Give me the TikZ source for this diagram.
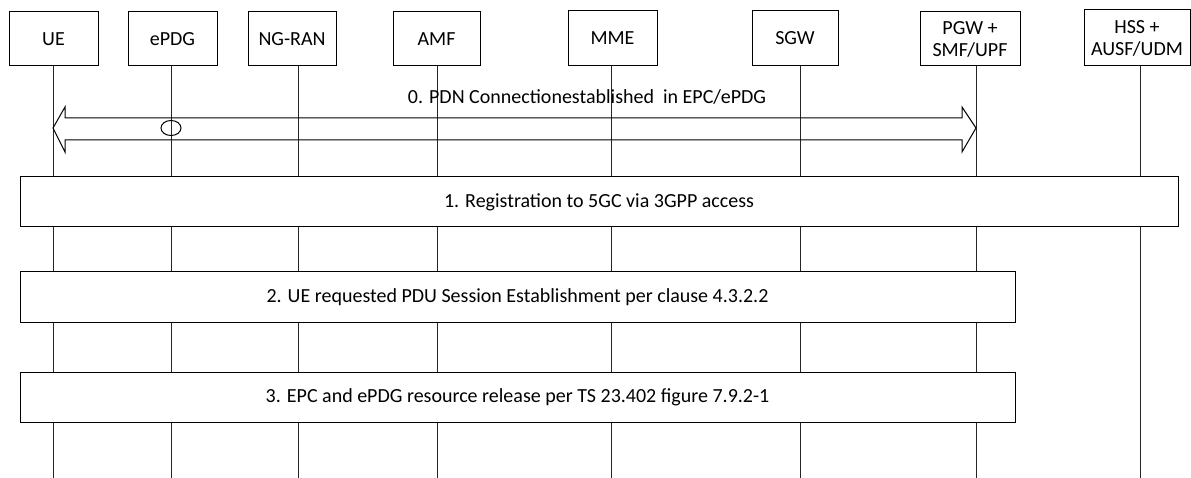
\documentclass[tikz,border=0pt]{standalone}
\usepackage{fontspec}
\setmainfont{Carlito}
\usetikzlibrary{calc}
\tikzset{
  entity/.style={
    draw,
    line width=1pt,
    fill=white,
    align=center,
    inner sep=0pt,
    minimum height=54pt,
    font=\fontsize{20}{22}\selectfont
  },
  stepbar/.style={
    draw,
    line width=1pt,
    fill=white,
    inner sep=0pt,
    minimum height=50pt,
    font=\fontsize{20}{22}\selectfont
  },
  lifeline/.style={
    line width=1pt,
    black!85
  },
  every picture/.style={
    x=1pt,
    y=-1pt
  }
}

\begin{document}
\begin{tikzpicture}
  \useasboundingbox (0,0) rectangle (1191,478);
  % entities
  \node[entity,minimum width=89pt] (ue) at (53.5,39) {UE};
  \node[entity,minimum width=89pt] (epdg) at (172.5,39) {ePDG};
  \node[entity,minimum width=88pt] (ngran) at (292,39) {NG-RAN};
  \node[entity,minimum width=87pt] (amf) at (436.5,39) {AMF};
  \node[entity,minimum width=89pt,minimum height=55pt] (mme) at (612.5,38.5) {MME};
  \node[entity,minimum width=86pt,minimum height=55pt] (sgw) at (795,38.5) {SGW};
  \node[entity,minimum width=100pt] (pgw) at (970,39) {PGW +\\SMF/UPF};
  \node[entity,minimum width=106pt,minimum height=56pt] (hss) at (1137,38) {HSS +\\AUSF/UDM};
  % lifelines
  \foreach \name/\lx in {ue/53,epdg/171,ngran/298,amf/437,mme/611,sgw/800,pgw/976,hss/1140}{
    \coordinate (\name-end) at (\lx,478);
    \draw[lifeline] (\name.south -| \name-end) -- (\name-end);
  }
  % 0. PDN connection
  \coordinate (pdnl) at (ue-end |- 0,128);
  \coordinate (pdnr) at (pgw-end |- 0,128);
  \draw[line width=1pt] (pdnl) -- ++(12,-21) -- ++(0,11) -- ($(pdnr)+(-14,-10)$)
    -- ++(0,-11) -- (pdnr) -- ++(-14,24) -- ++(0,-12) -- ($(pdnl)+(12,12)$)
    -- ++(0,12) -- cycle;
  \draw[line width=1pt] (epdg-end |- 0,128) ellipse (10 and 7.5);
  \node[font=\fontsize{20}{22}\selectfont] (pdn) at (587,97) {0. PDN Connectionestablished\ \ in EPC/ePDG};
  % steps
  \node[stepbar,minimum width=1158pt] (reg) at (599,202) {1. Registration to 5GC via 3GPP access};
  \node[stepbar,minimum width=995pt] (pdu) at (517.5,297) {2. UE requested PDU Session Establishment per clause 4.3.2.2};
  \node[stepbar,minimum width=995pt] (rel) at (517.5,397) {3. EPC and ePDG resource release per TS 23.402 figure 7.9.2-1};
\end{tikzpicture}
\end{document}
